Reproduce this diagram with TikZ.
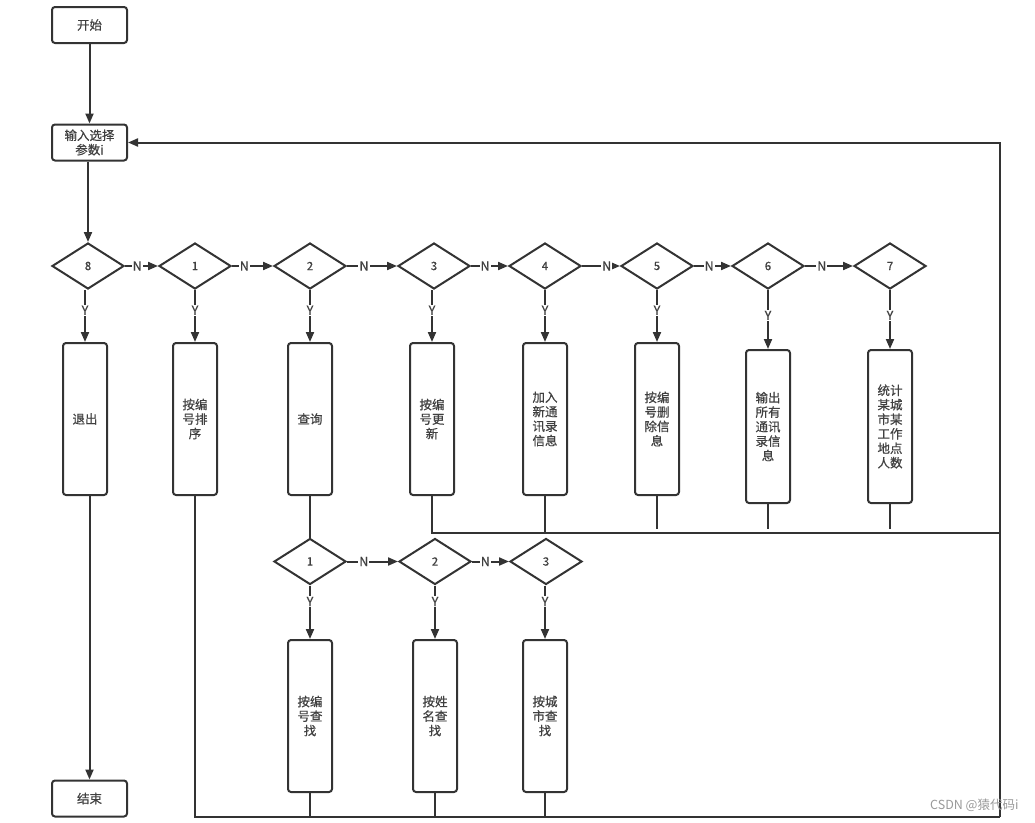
\documentclass[tikz,border=0pt]{standalone}
\usepackage{fontspec}
\setmainfont{Noto Sans CJK SC}[FakeBold=0.6]
\newfontfamily\plainfont{Noto Sans CJK SC}
\usetikzlibrary{shapes.geometric,arrows.meta}
\definecolor{ln}{HTML}{333333}
\definecolor{tx}{HTML}{404040}
\tikzset{
  x=1pt,y=-1pt,
  every node/.style={text=tx,font=\fontsize{12.5}{14.5}\selectfont},
  line/.style={draw=ln,line width=2pt},
  arr/.style={line,-{Triangle[length=10pt,width=8pt]}},
  termbox/.style={line,rounded corners=3pt,minimum width=75pt,minimum height=36pt,inner sep=1pt,align=center},
  procbox/.style={line,rounded corners=3pt,minimum width=44pt,minimum height=152pt,inner sep=1pt,align=center},
  decide/.style={line,diamond,minimum width=72pt,minimum height=46pt,inner sep=0pt,font=\fontsize{11.5}{12}\selectfont},
  lbl/.style={fill=white,inner sep=1pt,font=\fontsize{12.5}{13}\selectfont}
}
\begin{document}
\begin{tikzpicture}
\useasboundingbox (0,0) rectangle (1035,822);
% terminals
\node[termbox] (start) at (89.5,25) {开始};
\node[termbox] (in) at (89.5,142.5) {输入选择\\参数i};
\node[termbox] (end) at (89.5,798.5) {结束};
% decisions
\node[decide] (d8) at (88,266) {8};
\node[decide] (d1) at (195,266) {1};
\node[decide] (d2) at (310,266) {2};
\node[decide] (d3) at (434,266) {3};
\node[decide] (d4) at (545,266) {4};
\node[decide] (d5) at (657,266) {5};
\node[decide] (d6) at (768,266) {6};
\node[decide] (d7) at (890,266) {7};
% process boxes
\node[procbox] (b8) at (85,419) {退出};
\node[procbox] (b1) at (195,419) {按编\\号排\\序};
\node[procbox] (b2) at (310,419) {查询};
\node[procbox] (b3) at (432,419) {按编\\号更\\新};
\node[procbox] (b4) at (545,419) {加入\\新通\\讯录\\信息};
\node[procbox] (b5) at (657,419) {按编\\号删\\除信\\息};
\node[procbox,minimum height=153pt] (b6) at (768,426.5) {输出\\所有\\通讯\\录信\\息};
\node[procbox,minimum height=153pt] (b7) at (890,426.5) {统计\\某城\\市某\\工作\\地点\\人数};
% sub decisions
\node[decide] (s1) at (310,561.5) {1};
\node[decide] (s2) at (435,561.5) {2};
\node[decide] (s3) at (546,561.5) {3};
\node[procbox] (q1) at (310,716) {按编\\号查\\找};
\node[procbox] (q2) at (435,716) {按姓\\名查\\找};
\node[procbox] (q3) at (545,716) {按城\\市查\\找};
% coordinates
\coordinate (rc) at (1000,533);
\coordinate (rt) at (1000,142.5);
\coordinate (rb) at (1000,817);
% main flow
\draw[arr] (start) -- (in);
\draw[arr] (in.south -| d8.north) -- (d8.north);
\draw[arr] (d8.east) -- node[lbl,pos=0.37]{N} (d1.west);
\draw[arr] (d1.east) -- node[lbl,pos=0.3]{N} (d2.west);
\draw[arr] (d2.east) -- node[lbl,pos=0.34]{N} (d3.west);
\draw[arr] (d3.east) -- node[lbl,pos=0.38]{N} (d4.west);
\draw[arr] (d4.east) -- node[lbl,pos=0.65]{N} (d5.west);
\draw[arr] (d5.east) -- node[lbl,pos=0.41]{N} (d6.west);
\draw[arr] (d6.east) -- node[lbl,pos=0.35]{N} (d7.west);
\foreach \d/\b in {d8/b8,d1/b1,d2/b2,d3/b3,d4/b4,d5/b5}{
  \draw[arr] (\d.south -| \b.north) -- node[lbl,pos=0.39]{Y} (\b.north);
}
\foreach \d/\b in {d6/b6,d7/b7}{
  \draw[arr] (\d.south) -- node[lbl,pos=0.43]{Y} (\b.north);
}
\draw[arr] (b8.south -| end.north) -- (end.north);
% query sub-flow
\draw[line] (b2.south) -- (s1.north);
\draw[arr] (s1.east) -- node[lbl,pos=0.33]{N} (s2.west);
\draw[arr] (s2.east) -- node[lbl,pos=0.36]{N} (s3.west);
\draw[arr] (s1.south) -- node[lbl,pos=0.3]{Y} (q1.north);
\draw[arr] (s2.south) -- node[lbl,pos=0.3]{Y} (q2.north);
\draw[arr] (s3.south -| q3.north) -- node[lbl,pos=0.3]{Y} (q3.north);
% return paths
\draw[line] (b3.south) -- (b3.south |- rc) -- (rc);
\draw[line] (b4.south) -- (b4.south |- rc);
\draw[line] (b5.south) -- ++(0,33);
\draw[line] (b6.south) -- ++(0,25);
\draw[line] (b7.south) -- ++(0,25);
\draw[line] (b1.south) -- (b1.south |- rb) -- (rb);
\draw[line] (q1.south) -- (q1.south |- rb);
\draw[line] (q2.south) -- (q2.south |- rb);
\draw[line] (q3.south) -- (q3.south |- rb);
\draw[arr] (rb) -- (rt) -- (in.east);
% watermark
\node[anchor=east,text=black!40,font=\plainfont\fontsize{12.5}{14}\selectfont] (wm) at (1022,805) {CSDN @猿代码i};
\end{tikzpicture}
\end{document}
